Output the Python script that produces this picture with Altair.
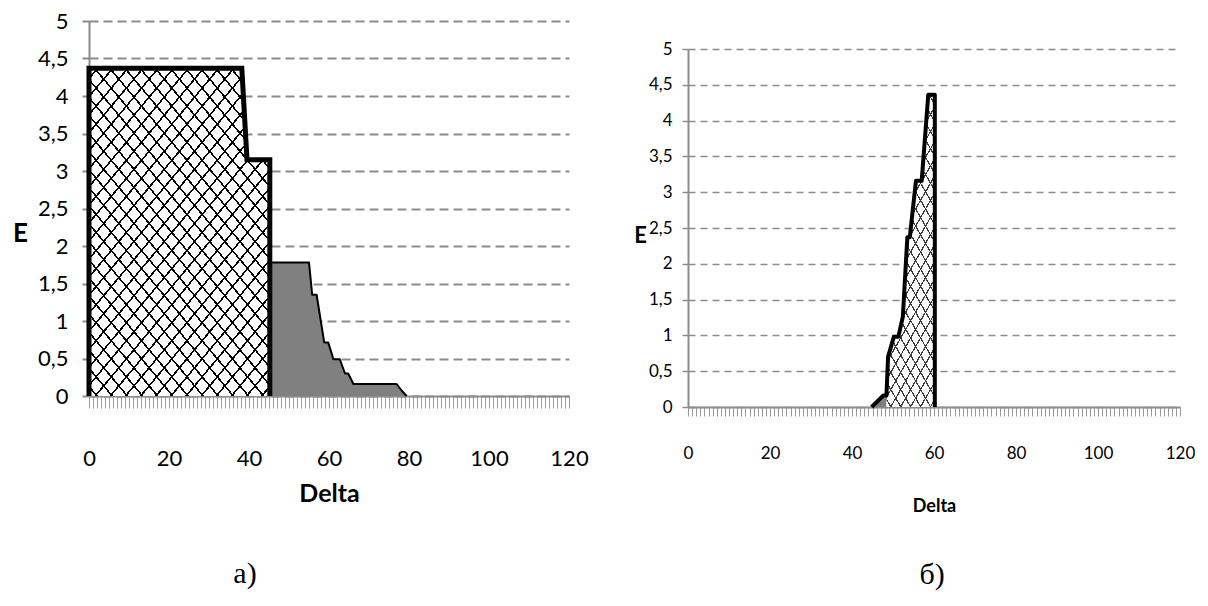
import math
import altair as alt
import pandas as pd

# ---------------- data ----------------
# panel а)
a_hatch_delta = [0, 38.2, 39.5, 45.2]
a_hatch_e = [4.37, 4.37, 3.15, 3.15]
a_gray_delta = [45.2, 55, 55.8, 56.9, 58.8, 59.8, 61.1, 62.7, 64, 64.8, 66.1, 76.9, 78.2, 79.4]
a_gray_e = [1.78, 1.78, 1.35, 1.35, 0.715, 0.715, 0.49, 0.49, 0.30, 0.30, 0.16, 0.16, 0.07, 0]

# panel б)
b_gray_delta = [44.8, 47.6, 48.4]
b_gray_e = [0, 0.16, 0.16]
b_hatch_delta = [48.4, 48.8, 50.2, 51.3, 52.4, 53.5, 54.1, 55.6, 57.0, 58.6, 60.2]
b_hatch_e = [0.16, 0.70, 0.98, 0.98, 1.26, 2.37, 2.37, 3.16, 3.16, 4.36, 4.36]

x_tick_values = list(range(0, 121))
y_tick_values = [0, 0.5, 1, 1.5, 2, 2.5, 3, 3.5, 4, 4.5, 5]
panel_labels = ["а)", "б)"]
x_title = "Delta"
y_title = "E"

SANS = "Lato, Open Sans, sans-serif"
SERIF = "Liberation Serif, Times New Roman, serif"
X_MAX, Y_MAX = 120, 5


def df_of(xs, ys):
    return pd.DataFrame({"delta": xs, "e": ys, "i": list(range(len(xs)))})


def stripe_gradient(W, H, theta_deg, d, w, color, up):
    """Linear gradient of hard stripes (bounding-box units) that draws
    parallel hatch lines at angle theta, spacing d px, width w px."""
    th = math.radians(theta_deg)
    s, c = math.sin(th), math.cos(th)
    L = W * s + H * c
    if up:
        a, b = W * s / L, H * c / L
        p1 = (0.0, 0.0)
    else:
        a, b = -W * s / L, H * c / L
        p1 = (1.0, 0.0)
    n2 = a * a + b * b
    x2, y2 = p1[0] + a / n2, p1[1] + b / n2
    clear = "rgba(255,255,255,0)"
    stops = [alt.GradientStop(offset=0, color=clear)]
    k = 0
    while True:
        t0 = (k * d + d / 2) / L
        t1 = t0 + w / L
        if t0 >= 1:
            break
        t1 = min(t1, 1)
        stops += [alt.GradientStop(offset=t0, color=clear),
                  alt.GradientStop(offset=t0, color=color),
                  alt.GradientStop(offset=t1, color=color),
                  alt.GradientStop(offset=t1, color=clear)]
        k += 1
    stops.append(alt.GradientStop(offset=1, color=clear))
    return alt.Gradient(gradient="linear", stops=stops,
                        x1=p1[0], y1=p1[1], x2=x2, y2=y2)


def make_panel(width, height, hatch_x, hatch_y, gray_x, gray_y, thick_pts, thin_pts,
               st, label):
    xaxis = alt.Axis(values=x_tick_values, grid=False, title=x_title,
                     labelExpr="datum.value % 20 === 0 ? datum.value : ''",
                     labelOverlap=False, labelFlush=False, labelFont=SANS,
                     labelFontSize=st["lab"],
                     labelColor="black", labelPadding=st["xlabpad"],
                     tickColor="#9a9a9a", tickWidth=1, tickSize=st["xtick"],
                     domainColor="#8c8c8c", domainWidth=st["dom"],
                     titleFont=SANS, titleFontSize=st["tit"], titleFontWeight="bold",
                     titleColor="black", titleY=st["xtitley"], titleBaseline="middle")
    yaxis = alt.Axis(values=y_tick_values, title=y_title,
                     labelExpr="replace(format(datum.value, '~g'), '.', ',')",
                     labelFont=SANS, labelFontSize=st["lab"], labelColor="black",
                     labelPadding=st["ylabpad"], labelOverlap=False, labelFlush=False,
                     tickColor="#8c8c8c", tickWidth=st["grid_w"], tickSize=st["ytick"],
                     domainColor="#8c8c8c", domainWidth=st["dom"],
                     grid=True, gridColor="#8c8c8c", gridDash=[st["dash"], st["gap"]],
                     gridWidth=st["grid_w"],
                     titleFont=SANS, titleFontSize=st["ytit"], titleFontWeight="bold",
                     titleColor="black", titleAngle=0, titleAlign="center",
                     titleBaseline="middle", titleX=st["etx"], titleY=st["ety"])
    X = alt.X("delta:Q", scale=alt.Scale(domain=[0, X_MAX], nice=False, zero=False), axis=xaxis)
    Y = alt.Y("e:Q", scale=alt.Scale(domain=[0, Y_MAX], nice=False), axis=yaxis)

    hatch_df = df_of(hatch_x, hatch_y)
    gray_df = df_of(gray_x, gray_y)

    W = (max(hatch_x) - min(hatch_x)) * width / X_MAX
    H = max(hatch_y) * height / Y_MAX
    g1 = stripe_gradient(W, H, st["theta"], st["d"], st["w"], st["hcol"], True)
    g2 = stripe_gradient(W, H, st["theta"], st["d"], st["w"], st["hcol"], False)

    gray = alt.Chart(gray_df).mark_area(color="#808080", opacity=1).encode(x=X, y=Y)
    white = alt.Chart(hatch_df).mark_area(color="white", opacity=1).encode(x=X, y=Y)
    s1 = alt.Chart(hatch_df).mark_area(fill=g1, opacity=1).encode(x=X, y=Y)
    s2 = alt.Chart(hatch_df).mark_area(fill=g2, opacity=1).encode(x=X, y=Y)
    layers = [gray, white, s1, s2]
    if thin_pts is not None:
        layers.append(alt.Chart(df_of(*thin_pts)).mark_line(
            color="black", strokeWidth=st["thin"], strokeJoin="round").encode(
            x=X, y=Y, order="i:Q"))
    layers.append(alt.Chart(df_of(*thick_pts)).mark_line(
        color="black", strokeWidth=st["thick"], strokeJoin=st["join"],
        strokeCap="butt").encode(x=X, y=Y, order="i:Q"))
    layers.append(alt.Chart(pd.DataFrame({"t": [label]})).mark_text(
        font=SERIF, fontSize=30, color="black", align="center", baseline="middle").encode(
        text="t:N", x=alt.value(st["lx"]), y=alt.value(st["ly"])))
    return alt.layer(*layers).properties(width=width, height=height)


# panel а
a_thick = ([a_hatch_delta[0]] + a_hatch_delta + [a_hatch_delta[-1]],
           [0] + a_hatch_e + [0])
a_thin = (a_gray_delta, a_gray_e)
st_a = dict(lab=22, tit=25, ytit=26, xlabpad=40, xtick=12, ytick=7, dom=2,
            xtitley=97, ylabpad=14, etx=-69, ety=212, grid_w=2, dash=9, gap=5,
            theta=50, d=11.6, w=1.6, hcol="black", thin=2, thick=5, join="miter",
            lx=156, ly=553)
left = make_panel(480, 375, a_hatch_delta, a_hatch_e, a_gray_delta, a_gray_e,
                  a_thick, a_thin, st_a, panel_labels[0])

# panel б
b_thick = (b_gray_delta + b_hatch_delta[1:] + [b_hatch_delta[-1]],
           b_gray_e + b_hatch_e[1:] + [0])
st_b = dict(lab=17, tit=18, ytit=22, xlabpad=29, xtick=9, ytick=6, dom=2,
            xtitley=99, ylabpad=10, etx=-48, ety=186, grid_w=1.5, dash=7, gap=5,
            theta=60, d=8.6, w=1.2, hcol="#3a3a3a", thin=2, thick=4, join="round",
            lx=244, ly=526)
right = make_panel(492, 358, b_hatch_delta, b_hatch_e, b_gray_delta, b_gray_e,
                   b_thick, None, st_b, panel_labels[1])

# empty spacer that lowers panel б relative to panel а
spacer = alt.Chart(pd.DataFrame({"s": [0]})).mark_point(opacity=0, size=1).encode(
    x=alt.value(0), y=alt.value(0)).properties(width=1, height=7)

right_col = alt.vconcat(spacer, right, spacing=12)

chart = alt.hconcat(left, right_col, spacing=44).properties(
    padding={"left": 12, "top": 10, "right": 0, "bottom": 0},
    background="white",
).configure_view(stroke=None)

chart.save("out.html", embed_options={"renderer": "svg", "actions": False})
